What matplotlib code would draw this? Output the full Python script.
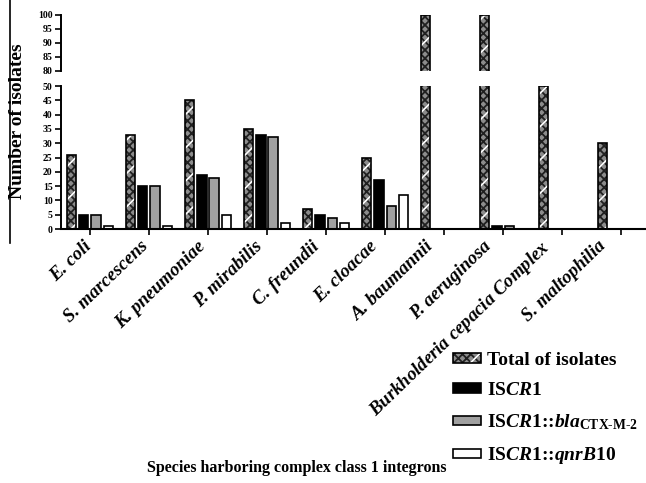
import matplotlib
matplotlib.use("Agg")
import matplotlib.pyplot as plt
import numpy as np
from matplotlib.patches import Patch
from matplotlib.lines import Line2D

categories = ["E. coli", "S. marcescens", "K. pneumoniae", "P. mirabilis", "C. freundii",
              "E. cloacae", "A. baumannii", "P. aeruginosa", "Burkholderia cepacia Complex",
              "S. maltophilia"]
total = [26, 33, 45, 35, 7, 25, 100, 100, 50, 30]
iscr1 = [5, 15, 19, 33, 5, 17, 0, 1, 0, 0]
bla_ctx = [5, 15, 18, 32, 4, 8, 0, 1, 0, 0]
qnrb10 = [1, 1, 5, 2, 2, 12, 0, 0, 0, 0]
series_labels = ["Total of isolates", r"IS$\mathit{CR1}$",
                 r"IS$\mathit{CR1}$::$\mathit{bla}_{\mathrm{CTX}\text{-}\mathrm{M}\text{-}2}$",
                 r"IS$\mathit{CR1}$::$\mathit{qnrB10}$"]
lower_ticks = list(range(0, 55, 5))
upper_ticks = list(range(80, 105, 5))

plt.rcParams['font.family'] = 'Liberation Serif'
plt.rcParams['font.weight'] = 'bold'
plt.rcParams['mathtext.fontset'] = 'custom'
plt.rcParams['mathtext.rm'] = 'Liberation Serif:bold'
plt.rcParams['mathtext.it'] = 'Liberation Serif:italic:bold'
plt.rcParams['mathtext.bf'] = 'Liberation Serif:bold'
plt.rcParams['hatch.linewidth'] = 1.3

W, H = 646, 483
fig = plt.figure(figsize=(W / 100, H / 100), dpi=100)

left = 61 / W
axl = fig.add_axes([left, 1 - 229 / H, 1 - left, (229 - 86) / H])
axu = fig.add_axes([left, 1 - 71 / H, 1 - left, (71 - 15) / H])

x = np.arange(len(categories))
bw = 0.16
step = 0.21
offs = [-1.5 * step, -0.5 * step, 0.5 * step, 1.5 * step]


def total_style():
    return [dict(facecolor='#8c8c8c', edgecolor='#202020', hatch='xxxx', linewidth=0),
            dict(facecolor='none', edgecolor='white', hatch='/', linewidth=0),
            dict(facecolor='none', edgecolor='black', linewidth=1.2)]


for ax in (axl, axu):
    for st in total_style():
        ax.bar(x + offs[0], total, bw, **st)
    ax.bar(x + offs[1], iscr1, bw, color='black', edgecolor='black', linewidth=1.2)
    ax.bar(x + offs[2], bla_ctx, bw, color='#a0a0a0', edgecolor='black', linewidth=1.2)
    ax.bar(x + offs[3], qnrb10, bw, color='white', edgecolor='black', linewidth=1.2)
    ax.set_xlim(-0.49, 9.42)
    for s in ('top', 'right'):
        ax.spines[s].set_visible(False)
    ax.spines['left'].set_linewidth(1.4)
    ax.tick_params(axis='y', direction='out', length=4, width=1.2, labelsize=7, pad=2)

axl.set_ylim(0, 50)
axl.set_yticks(lower_ticks)
axl.spines['bottom'].set_linewidth(1.5)
axl.set_xticks(x)
axl.set_xticklabels([])
axl.tick_params(axis='x', direction='out', length=4, width=1.2)

axu.set_ylim(80, 100)
axu.set_yticks(upper_ticks)
axu.spines['bottom'].set_visible(False)
axu.set_xticks([])

for i, c in enumerate(categories):
    if c.startswith("Burkholderia"):
        lab = r"$\mathit{Burkholderia\ cepacia}$ Complex"
    else:
        lab = c
    axl.text(i - 0.12 - 0.032 * i, -3.0, lab, rotation=44, rotation_mode='anchor',
             ha='right', va='top', fontsize=13.5, fontweight='bold',
             style='italic', transform=axl.transData, clip_on=False)

fig.text(18 / W, 1 - 121 / H, "Number of isolates", rotation=90, ha='center', va='center',
         fontsize=14, fontweight='bold')
fig.text(297 / W, 1 - 468 / H, "Species harboring complex class 1 integrons",
         ha='center', va='center', fontsize=11.5, fontweight='bold')

fig.add_artist(Line2D([9.5 / W, 9.5 / W], [1.0, 1 - 243 / H], color='black', lw=1.2,
                      transform=fig.transFigure))

h_total = tuple(Patch(**st) for st in total_style())
h1 = Patch(facecolor='black', edgecolor='black', linewidth=1.2)
h2 = Patch(facecolor='#a0a0a0', edgecolor='black', linewidth=1.2)
h3 = Patch(facecolor='white', edgecolor='black', linewidth=1.2)
fig.legend([h_total, h1, h2, h3], series_labels, loc='upper left',
           bbox_to_anchor=(453 / W, 1 - 352 / H), frameon=False, fontsize=14,
           handlelength=1.45, handleheight=0.4, handletextpad=0.3, labelspacing=0.68,
           borderaxespad=0, borderpad=0)

fig.savefig("out.png", dpi=100)
